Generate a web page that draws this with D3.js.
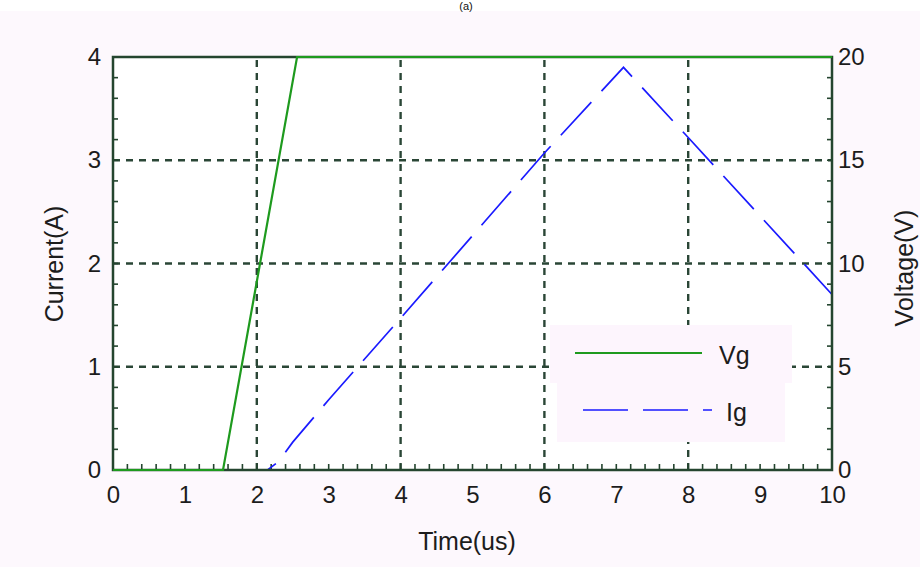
<!DOCTYPE html>
<html><head><meta charset="utf-8">
<script src="https://cdn.jsdelivr.net/npm/d3@7"></script>
<style>
html,body{margin:0;padding:0;background:#fdf8fd;}
svg{display:block;font-family:"Liberation Sans",Arial,sans-serif;}
</style></head>
<body>
<svg id="chart" width="920" height="567"></svg>
<script>
// ---- data ----
const title = "(a)";
const xTicks = [0,1,2,3,4,5,6,7,8,9,10];
const yLeftTicks = [0,1,2,3,4];
const yRightTicks = [0,5,10,15,20];
const vgTime = [0, 1.53, 2.56, 10];
const vgVolt = [0, 0, 20, 20];
const igTime = [0, 1.6, 2.15, 2.3, 2.5, 3, 4, 5, 6, 7.1, 8, 9, 10];
const igAmp  = [0, 0, 0, 0.08, 0.27, 0.68, 1.47, 2.27, 3.07, 3.9, 3.22, 2.46, 1.7];
const seriesNames = ["Vg", "Ig"];

const svg = d3.select("#chart");
const W = 920, H = 567;
const m = {left:113, right:832, top:57, bottom:470};

svg.append("rect").attr("x",0).attr("y",0).attr("width",W).attr("height",11).attr("fill","#ffffff");
svg.append("text").attr("x",466).attr("y",10).attr("text-anchor","middle")
  .attr("font-size",11).attr("fill","#111").text(title);

const x = d3.scaleLinear().domain([0,10]).range([m.left, m.right]);
const yL = d3.scaleLinear().domain([0,4]).range([m.bottom, m.top]);
const yR = d3.scaleLinear().domain([0,20]).range([m.bottom, m.top]);

const frameColor = "#24452f";
const gridColor = "#2a4636";
const textColor = "#1c1c1c";

// plot background
svg.append("rect").attr("x",m.left).attr("y",m.top)
  .attr("width",m.right-m.left).attr("height",m.bottom-m.top).attr("fill","#ffffff");

// grid
const g = svg.append("g");
[2,4,6,8].forEach(t=>{
  g.append("line").attr("x1",x(t)).attr("x2",x(t)).attr("y1",m.bottom).attr("y2",m.top)
   .attr("stroke",gridColor).attr("stroke-width",2.4).attr("stroke-dasharray","7,6");
});
[1,2,3].forEach(v=>{
  g.append("line").attr("x1",m.left).attr("x2",m.right).attr("y1",yL(v)).attr("y2",yL(v))
   .attr("stroke",gridColor).attr("stroke-width",2.4).attr("stroke-dasharray","7,6");
});

// minor ticks (inside)
const tickG = svg.append("g").attr("stroke",frameColor).attr("stroke-width",1.6);
d3.range(0,10.001,0.2).forEach(t=>{
  tickG.append("line").attr("x1",x(t)).attr("x2",x(t)).attr("y1",m.bottom).attr("y2",m.bottom-6);
});
d3.range(0,4.001,0.2).forEach(v=>{
  tickG.append("line").attr("x1",m.left).attr("x2",m.left+5).attr("y1",yL(v)).attr("y2",yL(v));
});
d3.range(0,20.001,1).forEach(v=>{
  tickG.append("line").attr("x1",m.right).attr("x2",m.right-5).attr("y1",yR(v)).attr("y2",yR(v));
});

// legend boxes
const lg = svg.append("g");
lg.append("rect").attr("x",550).attr("y",325).attr("width",242).attr("height",58).attr("fill","#fdf5fd");
lg.append("rect").attr("x",557).attr("y",383).attr("width",228).attr("height",59).attr("fill","#fdf5fd");

// lines
const lineV = d3.line().x((d,i)=>x(vgTime[i])).y(d=>yR(d));
const lineI = d3.line().x((d,i)=>x(igTime[i])).y(d=>yL(d));
svg.append("path").attr("d",lineI(igAmp)).attr("fill","none")
  .attr("stroke","#1a1aff").attr("stroke-width",1.7).attr("stroke-dasharray","45,15");

// legend entries
lg.append("line").attr("x1",575).attr("x2",702).attr("y1",353).attr("y2",353)
  .attr("stroke","#1e9a1e").attr("stroke-width",2);
lg.append("line").attr("x1",583).attr("x2",712).attr("y1",410).attr("y2",410)
  .attr("stroke","#1a1aff").attr("stroke-width",1.7).attr("stroke-dasharray","45,15");
lg.append("text").attr("x",719).attr("y",364).attr("font-size",25).attr("fill",textColor).text(seriesNames[0]);
lg.append("text").attr("x",726).attr("y",421).attr("font-size",25).attr("fill",textColor).text(seriesNames[1]);

// frame
svg.append("path")
  .attr("d",`M${m.left},${m.top}V${m.bottom}H${m.right}V${m.top}Z`)
  .attr("fill","none").attr("stroke",frameColor).attr("stroke-width",2.5);
// Vg on top of frame
svg.append("path").attr("d",lineV(vgVolt)).attr("fill","none")
  .attr("stroke","#1e9a1e").attr("stroke-width",2.2);

// tick labels via axes (no tick lines)
const axB = d3.axisBottom(x).tickValues(xTicks).tickSize(0).tickPadding(0).tickFormat(d3.format("d"));
const axL = d3.axisLeft(yL).tickValues(yLeftTicks).tickSize(0).tickPadding(0).tickFormat(d3.format("d"));
const axR = d3.axisRight(yR).tickValues(yRightTicks).tickSize(0).tickPadding(0).tickFormat(d3.format("d"));

function style(sel){
  sel.select(".domain").remove();
  sel.selectAll("text").attr("font-size",24).attr("fill",textColor)
    .attr("font-family","'Liberation Sans',Arial,sans-serif");
}
svg.append("g").attr("transform",`translate(0,${m.bottom+15})`).call(axB).call(style)
  .selectAll("text").attr("dy","0.75em");
svg.append("g").attr("transform",`translate(${m.left-12},0)`).call(axL).call(style);
svg.append("g").attr("transform",`translate(${m.right+6},0)`).call(axR).call(style);

// axis titles
svg.append("text").attr("x",467).attr("y",550).attr("text-anchor","middle")
  .attr("font-size",25).attr("fill",textColor).text("Time(us)");
svg.append("text").attr("transform",`translate(63,264) rotate(-90)`).attr("text-anchor","middle")
  .attr("font-size",25).attr("fill",textColor).text("Current(A)");
svg.append("text").attr("transform",`translate(913,268) rotate(-90)`).attr("text-anchor","middle")
  .attr("font-size",25).attr("fill",textColor).text("Voltage(V)");
</script>
</body></html>
